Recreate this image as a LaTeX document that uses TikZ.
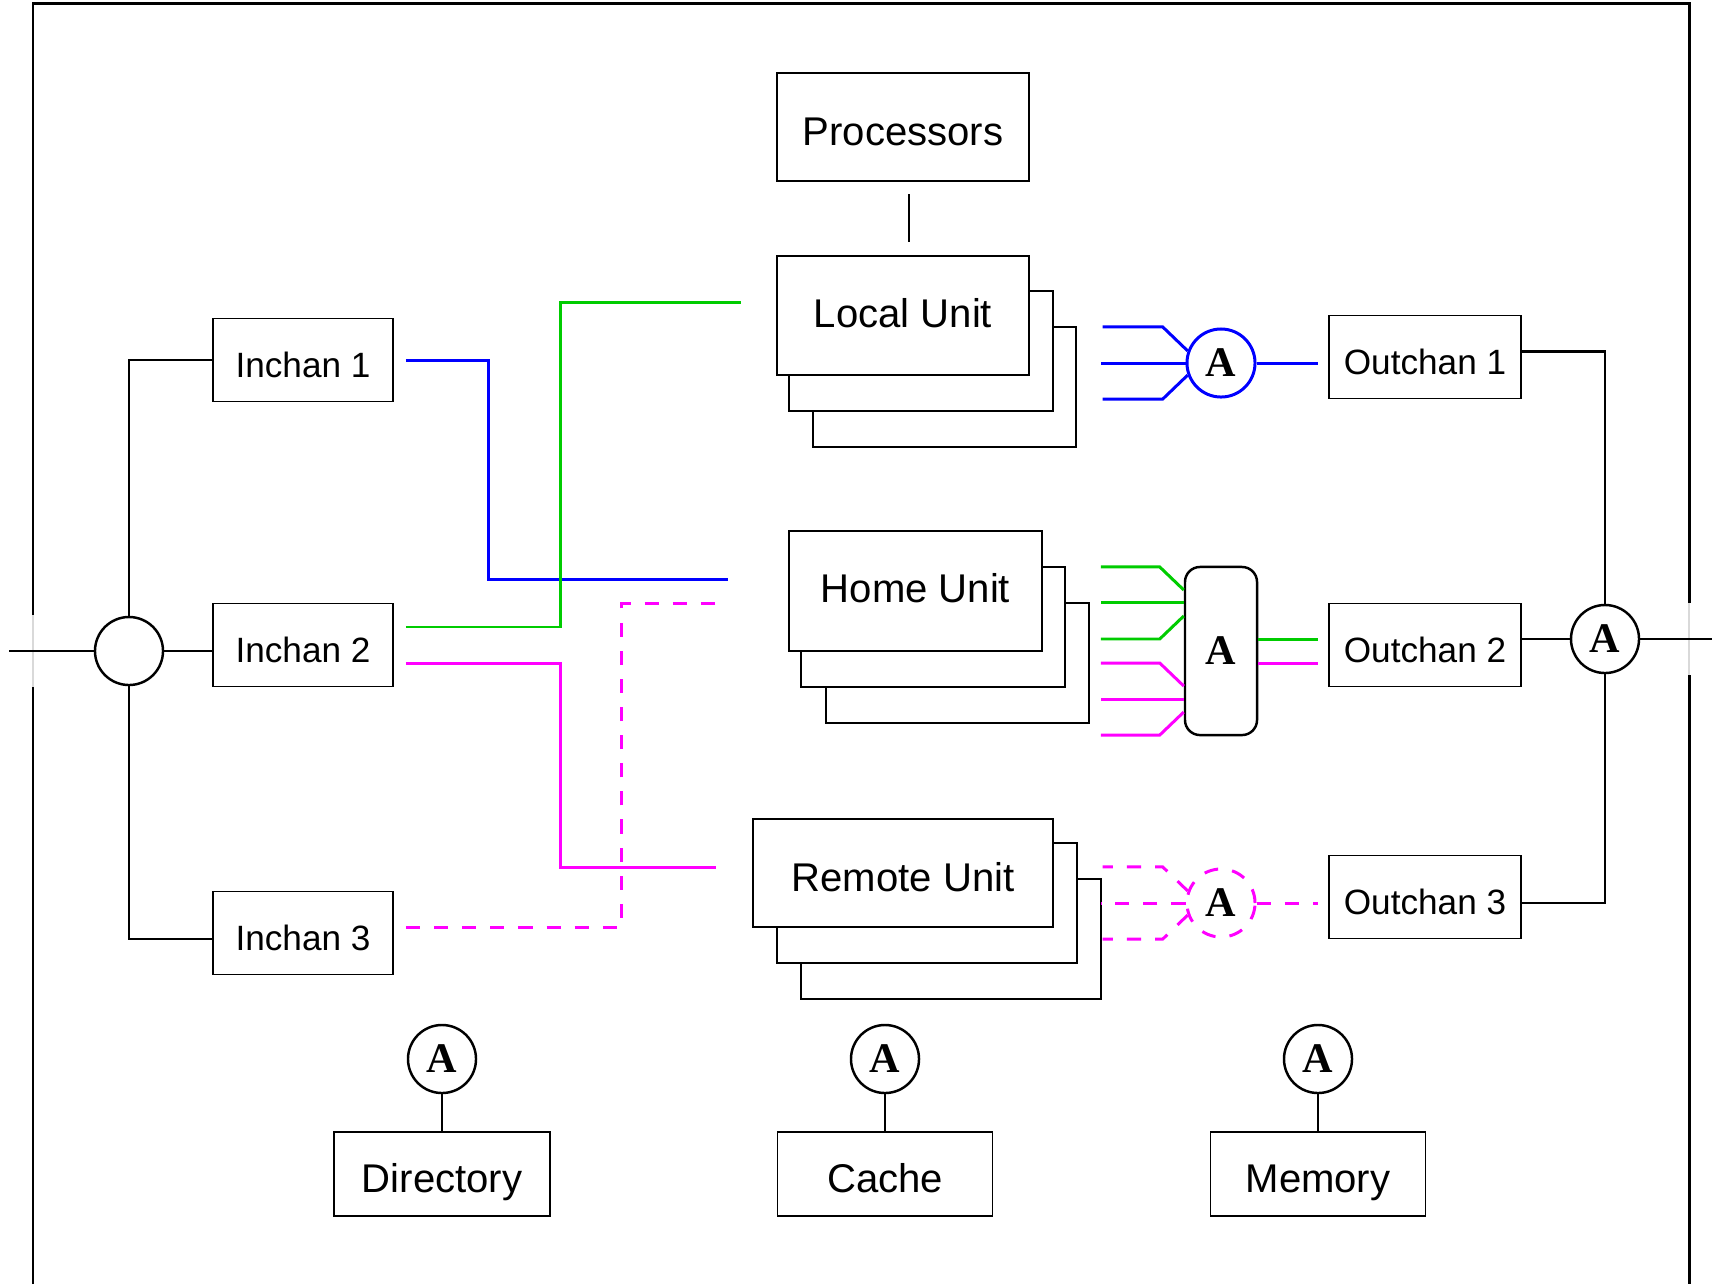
\documentclass[tikz,border=0pt]{standalone}
\usepackage{fontspec}
\setmainfont{Liberation Sans}
\newfontfamily\arbfont{Liberation Serif}
\usetikzlibrary{positioning}
\definecolor{busgreen}{RGB}{0,204,0}
\definecolor{busmagenta}{RGB}{255,0,255}

\begin{document}
\begin{tikzpicture}[x=0.01cm,y=-0.01cm,line width=0.6pt,
  every node/.style={font=\fontsize{11.4}{13}\selectfont},
  box/.style={draw,fill=white,line width=0.5pt,inner sep=0pt,text height=0.36cm,text depth=0cm},
  chan/.style={box,minimum height=0.83cm,font=\fontsize{10}{12}\selectfont,text height=0.34cm,text depth=0cm},
  arb/.style={circle,draw,fill=white,line width=0.7pt,minimum size=0.68cm,inner sep=0pt,font=\arbfont\bfseries\fontsize{12}{14}\selectfont},
  bus/.style={line width=0.85pt},
  dash4/.style={dash pattern=on 4pt off 4pt}]
\useasboundingbox (0,0) rectangle (1712,1284);

% outer frame, open at the bottom, with the two ports
\draw[line width=0.85pt] (33,1284) -- (33,3) -- (1689,3) -- (1689,1284);
\draw[white,line width=1.4pt] (33,615) -- (33,687) (1689,603) -- (1689,675);
\draw[gray!30,line width=0.4pt] (33,615) -- (33,687) (1689,603) -- (1689,675);

% unit stacks (back copies first)
\node[box,minimum width=2.63cm,minimum height=1.2cm] (lu3) at (944.5,387) {};
\node[box,minimum width=2.64cm,minimum height=1.2cm] (lu2) at (921,351) {};
\node[box,minimum width=2.52cm,minimum height=1.19cm,text height=0.29cm,text depth=0.06cm] (lu) at (903,315.5) {Local Unit};
\node[box,minimum width=2.52cm,minimum height=1.08cm,above=7.3mm of lu] (proc) {Processors};
\node[box,minimum width=2.63cm,minimum height=1.2cm] (hu3) at (957.5,663) {};
\node[box,minimum width=2.64cm,minimum height=1.2cm] (hu2) at (933,627) {};
\node[box,minimum width=2.53cm,minimum height=1.2cm,text height=0.29cm,text depth=0.06cm] (hu) at (915.5,591) {Home Unit};
\node[box,minimum width=3cm,minimum height=1.2cm] (ru3) at (951,939) {};
\node[box,minimum width=3cm,minimum height=1.2cm] (ru2) at (927,903) {};
\node[box,minimum width=3cm,minimum height=1.08cm] (ru) at (903,873) {Remote Unit};
\draw ([xshift=0.6mm,yshift=-1.2mm]proc.south) -- ([xshift=0.6mm,yshift=1.3mm]lu.north);

% channels
\node[chan,minimum width=1.8cm] (in1) at (303,360) {Inchan 1};
\node[chan,minimum width=1.8cm] (in2) at (303,645) {Inchan 2};
\node[chan,minimum width=1.8cm] (in3) at (303,933) {Inchan 3};
\node[chan,minimum width=1.92cm] (out1) at (1425,357) {Outchan 1};
\node[chan,minimum width=1.92cm] (out2) at (1425,645) {Outchan 2};
\node[chan,minimum width=1.92cm] (out3) at (1425,897) {Outchan 3};

% input tree
\node[arb] (hub) at (129,651) {};
\coordinate (lin) at (9,651);
\draw (lin) -- (hub); \draw (hub) -- (hub -| in2.west);
\draw (hub) |- (in1); \draw (hub) |- ([yshift=-0.6mm]in3.west);

% output tree
\node[arb] (aout) at (1605,639) {A};
\coordinate (rout) at (1712,639);
\draw (aout) -- (rout); \draw (out2.east |- aout) -- (aout);
\draw ([yshift=0.55mm]out1.east) -| (aout); \draw ([yshift=-0.6mm]out3.east) -| (aout);

% inchan buses into the units
\coordinate (lu-in) at (741,302);
\coordinate (hu-in) at (728,579);
\coordinate (hu-in2) at (728,603);
\coordinate (ru-in) at (716,867);
\draw[bus,blue] ([xshift=1.2mm]in1.east) -- ++(83,0) |- (hu-in);
\draw[bus,busgreen] ([xshift=1.2mm,yshift=1.8mm]in2.east) -- ++(155,0) |- (lu-in);
\draw[bus,busmagenta] ([xshift=1.2mm,yshift=-1.8mm]in2.east) -- ++(155,0) |- (ru-in);
\draw[bus,busmagenta,dash4] ([xshift=1.2mm,yshift=0.6mm]in3.east) -- ++(216,0) |- (hu-in2);

% arbiters in front of the outchans
\node[arb,draw=blue,bus] (a1) at (1221,363) {A};
\draw[bus,blue] (a1.160) -- ++(-25,-24) -- ++(-60,0);
\draw[bus,blue] (a1.west) -- ++(-85,0);
\draw[bus,blue] (a1.200) -- ++(-25,24) -- ++(-60,0);
\draw[bus,blue] (a1.east) -- ++(61,0);

\node[arb,rectangle,rounded corners=1.5mm,minimum width=0.72cm,minimum height=1.68cm] (a2) at (1221,651) {A};
\draw[bus,busgreen] ([yshift=6.1mm]a2.west) -- ++(-24,-23) -- ++(-59,0);
\draw[bus,busgreen] ([yshift=4.8mm]a2.west) -- ++(-83,0);
\draw[bus,busgreen] ([yshift=3.5mm]a2.west) -- ++(-24,23) -- ++(-59,0);
\draw[bus,busmagenta] ([yshift=-3.5mm]a2.west) -- ++(-24,-23) -- ++(-59,0);
\draw[bus,busmagenta] ([yshift=-4.8mm]a2.west) -- ++(-83,0);
\draw[bus,busmagenta] ([yshift=-6.1mm]a2.west) -- ++(-24,23) -- ++(-59,0);
\draw[bus,busgreen] ([yshift=1.2mm]a2.east) -- ++(60,0);
\draw[bus,busmagenta] ([yshift=-1.2mm]a2.east) -- ++(60,0);

\node[arb,draw=busmagenta,bus,dash4] (a3) at (1221,903) {A};
\draw[bus,busmagenta,dash4] (a3.160) -- ++(-25,-24) -- ++(-60,0);
\draw[bus,busmagenta,dash4] (a3.west) -- ++(-85,0);
\draw[bus,busmagenta,dash4] (a3.200) -- ++(-25,24) -- ++(-60,0);
\draw[bus,busmagenta,dash4] (a3.east) -- ++(61,0);

% shared resources
\node[arb] (ad) at (442,1059) {A};
\node[arb] (ac) at (885,1059) {A};
\node[arb] (am) at (1318,1059) {A};
\node[box,minimum width=2.16cm,minimum height=0.84cm,below=3.7mm of ad] (dir) {Directory};
\node[box,minimum width=2.15cm,minimum height=0.84cm,below=3.7mm of ac] (cache) {Cache};
\node[box,minimum width=2.15cm,minimum height=0.84cm,below=3.7mm of am] (mem) {Memory};
\draw (ad) -- (dir); \draw (ac) -- (cache); \draw (am) -- (mem);
\end{tikzpicture}
\end{document}
